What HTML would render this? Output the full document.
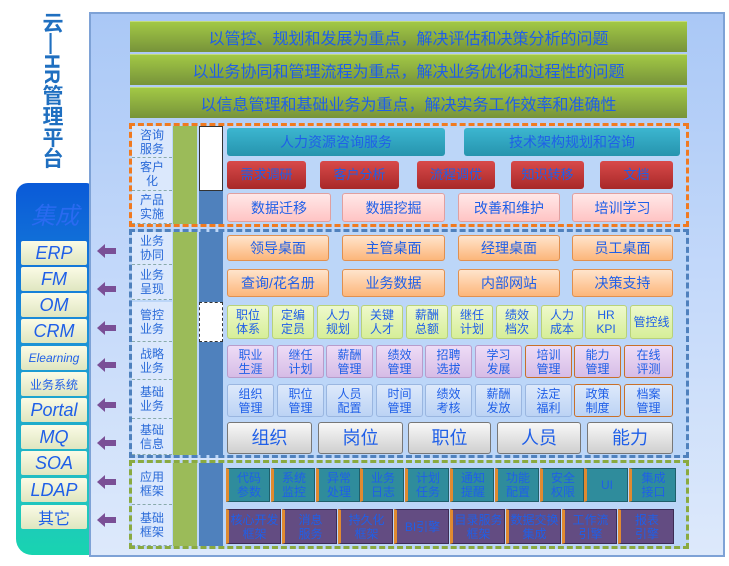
<!DOCTYPE html>
<html><head><meta charset="utf-8"><style>
*{margin:0;padding:0;box-sizing:border-box}
body{width:729px;height:566px;background:#fff;position:relative;overflow:hidden;font-family:"Liberation Sans","Noto Sans CJK SC",sans-serif}
div{position:absolute}
.b{display:flex;align-items:center;justify-content:center;text-align:center;color:#1f5fe8;font-size:12px;line-height:14px;border-radius:3px}
.lb{left:132px;width:40px;background:#dbe8fc;color:#2a6ad8;font-size:12px;line-height:14px;display:flex;align-items:center;justify-content:center;text-align:center;border-bottom:1px dashed #8aa}
.gc{left:173px;width:24px;background:#9bbb59}
.tc{left:199px;width:24px;background:#4f81bd}
.ban{left:130px;width:557px;height:31px;background:linear-gradient(#a2c845,#77933a);color:#1f5fe8;font-size:16px;display:flex;align-items:center;justify-content:center;border-top:1px solid #c3dc7c}
.g{background:linear-gradient(#eef9cc,#d6ee98);border:1px solid #b8d27a}
.p{background:linear-gradient(#eedcf6,#d6bce6);border:1px solid #b89ccb}
.l{background:linear-gradient(#dde9fb,#bcd3f4);border:1px solid #9ab6e0}
.o{border-color:#c8702a!important}
.t{background:#2f8c9c;border:1px solid #1f5f6a;border-left:3px solid #e08a30;border-radius:0}
.u{background:#634c82;border:1px solid #3c2c55;border-left:3px solid #e08a30;border-radius:0}
.it{left:21px;width:66px;height:24px;background:linear-gradient(#fbfbe6,#dfe6c0);color:#1f5fe8;font-style:italic;font-size:18px;display:flex;align-items:center;justify-content:center;border-radius:2px}
.ar{left:97px;width:0;height:0;border-top:7px solid transparent;border-bottom:7px solid transparent;border-right:8px solid #7a4f96}
.as{left:105px;width:11px;height:6px;background:#7a4f96}
</style></head><body>
<!-- title -->
<div style="left:37px;top:12px;width:28px;height:165px;color:#1f6fc0;font-weight:bold;font-size:21px;line-height:28px;writing-mode:vertical-rl;white-space:nowrap">云—HR管理平台</div>
<!-- integration panel -->
<div style="left:16px;top:183px;width:78px;height:372px;background:linear-gradient(#0a5ad8,#1b8fd8 40%,#22c4c0 85%,#18d4b0);border-radius:12px 8px 4px 16px"></div>
<div style="left:16px;top:196px;width:78px;text-align:center;color:#2a6af0;font-size:24px;font-style:italic">集成</div>
<div class="it" style="top:241px">ERP</div>
<div class="it" style="top:267px">FM</div>
<div class="it" style="top:293px">OM</div>
<div class="it" style="top:319px">CRM</div>
<div class="it" style="top:346px;font-size:12px">Elearning</div>
<div class="it" style="top:372px;font-size:12px;font-style:normal">业务系统</div>
<div class="it" style="top:398px">Portal</div>
<div class="it" style="top:425px">MQ</div>
<div class="it" style="top:451px">SOA</div>
<div class="it" style="top:478px">LDAP</div>
<div class="it" style="top:505px;font-style:normal;font-size:16px">其它</div>
<!-- main panel -->
<div style="left:89px;top:12px;width:636px;height:545px;background:linear-gradient(#aac8f6,#c4d9fa 50%,#dde9fb);border:2px solid #7ea2d6"></div>
<!-- arrows -->
<div class="ar" style="top:244px"></div><div class="as" style="top:248px"></div>
<div class="ar" style="top:282px"></div><div class="as" style="top:286px"></div>
<div class="ar" style="top:321px"></div><div class="as" style="top:325px"></div>
<div class="ar" style="top:358px"></div><div class="as" style="top:362px"></div>
<div class="ar" style="top:398px"></div><div class="as" style="top:402px"></div>
<div class="ar" style="top:436px"></div><div class="as" style="top:440px"></div>
<div class="ar" style="top:475px"></div><div class="as" style="top:479px"></div>
<div class="ar" style="top:513px"></div><div class="as" style="top:517px"></div>
<div class="ban" style="top:21px">以管控、规划和发展为重点，解决评估和决策分析的问题</div>
<div class="ban" style="top:54px">以业务协同和管理流程为重点，解决业务优化和过程性的问题</div>
<div class="ban" style="top:87px">以信息管理和基础业务为重点，解决实务工作效率和准确性</div>
<!-- section boxes -->
<div style="left:129px;top:123px;width:560px;height:104px;border:3px dashed #f07a20;background:#bcd6f8"></div>
<div style="left:129px;top:229px;width:560px;height:229px;border:3px dashed #4f81bd;background:#bcd6f8"></div>
<div style="left:129px;top:460px;width:560px;height:89px;border:3px dashed #8aaa40;background:#bcd6f8"></div>
<!-- columns -->
<div class="gc" style="top:126px;height:98px"></div>
<div class="gc" style="top:232px;height:223px"></div>
<div class="gc" style="top:463px;height:83px"></div>
<div style="left:199px;top:126px;width:24px;height:65px;background:#fff;border:1px solid #333"></div>
<div class="tc" style="top:191px;height:33px"></div>
<div class="tc" style="top:232px;height:70px"></div>
<div style="left:199px;top:302px;width:24px;height:40px;background:#fff;border:1px dashed #333"></div>
<div class="tc" style="top:342px;height:113px"></div>
<div class="tc" style="top:463px;height:83px"></div>
<!-- labels -->
<div class="lb" style="top:126px;height:32px">咨询<br>服务</div>
<div class="lb" style="top:158px;height:33px">客户<br>化</div>
<div class="lb" style="top:191px;height:33px">产品<br>实施</div>
<div class="lb" style="top:232px;height:33px">业务<br>协同</div>
<div class="lb" style="top:265px;height:35px">业务<br>呈现</div>
<div class="lb" style="top:302px;height:40px">管控<br>业务</div>
<div class="lb" style="top:342px;height:38px">战略<br>业务</div>
<div class="lb" style="top:380px;height:39px">基础<br>业务</div>
<div class="lb" style="top:419px;height:36px">基础<br>信息</div>
<div class="lb" style="top:463px;height:42px">应用<br>框架</div>
<div class="lb" style="top:505px;height:41px">基础<br>框架</div>
<!-- 咨询 -->
<div class="b" style="left:227px;top:128px;width:218px;height:28px;background:linear-gradient(#3cb6d0,#2694ae);font-size:14px">人力资源咨询服务</div>
<div class="b" style="left:464px;top:128px;width:216px;height:28px;background:linear-gradient(#3cb6d0,#2694ae);font-size:14px">技术架构规划和咨询</div>
<!-- 客户化 -->
<div class="b" style="left:227px;top:161px;width:79px;height:28px;background:linear-gradient(#d84a4a,#a82828);font-size:13px">需求调研</div>
<div class="b" style="left:320px;top:161px;width:79px;height:28px;background:linear-gradient(#d84a4a,#a82828);font-size:13px">客户分析</div>
<div class="b" style="left:417px;top:161px;width:78px;height:28px;background:linear-gradient(#d84a4a,#a82828);font-size:13px">流程调优</div>
<div class="b" style="left:511px;top:161px;width:73px;height:28px;background:linear-gradient(#d84a4a,#a82828);font-size:13px">知识转移</div>
<div class="b" style="left:600px;top:161px;width:73px;height:28px;background:linear-gradient(#d84a4a,#a82828);font-size:13px">文档</div>
<!-- 产品实施 -->
<div class="b" style="left:227px;top:193px;width:104px;height:29px;background:linear-gradient(#ffe8e8,#ffc4c4);border:1px solid #e0a0a0;font-size:14px">数据迁移</div>
<div class="b" style="left:342px;top:193px;width:103px;height:29px;background:linear-gradient(#ffe8e8,#ffc4c4);border:1px solid #e0a0a0;font-size:14px">数据挖掘</div>
<div class="b" style="left:458px;top:193px;width:102px;height:29px;background:linear-gradient(#ffe8e8,#ffc4c4);border:1px solid #e0a0a0;font-size:14px">改善和维护</div>
<div class="b" style="left:572px;top:193px;width:101px;height:29px;background:linear-gradient(#ffe8e8,#ffc4c4);border:1px solid #e0a0a0;font-size:14px">培训学习</div>
<!-- 业务协同/呈现 -->
<div class="b" style="left:227px;top:235px;width:102px;height:26px;background:linear-gradient(#ffe4cc,#fcb67a);border:1px solid #e09050;font-size:14px">领导桌面</div>
<div class="b" style="left:342px;top:235px;width:103px;height:26px;background:linear-gradient(#ffe4cc,#fcb67a);border:1px solid #e09050;font-size:14px">主管桌面</div>
<div class="b" style="left:458px;top:235px;width:102px;height:26px;background:linear-gradient(#ffe4cc,#fcb67a);border:1px solid #e09050;font-size:14px">经理桌面</div>
<div class="b" style="left:572px;top:235px;width:101px;height:26px;background:linear-gradient(#ffe4cc,#fcb67a);border:1px solid #e09050;font-size:14px">员工桌面</div>
<div class="b" style="left:227px;top:269px;width:102px;height:28px;background:linear-gradient(#ffe4cc,#fcb67a);border:1px solid #e09050;font-size:14px">查询/花名册</div>
<div class="b" style="left:342px;top:269px;width:103px;height:28px;background:linear-gradient(#ffe4cc,#fcb67a);border:1px solid #e09050;font-size:14px">业务数据</div>
<div class="b" style="left:458px;top:269px;width:102px;height:28px;background:linear-gradient(#ffe4cc,#fcb67a);border:1px solid #e09050;font-size:14px">内部网站</div>
<div class="b" style="left:572px;top:269px;width:101px;height:28px;background:linear-gradient(#ffe4cc,#fcb67a);border:1px solid #e09050;font-size:14px">决策支持</div>
<!-- 管控 -->
<div class="b g" style="left:227px;top:305px;width:42px;height:34px">职位<br>体系</div>
<div class="b g" style="left:272px;top:305px;width:42px;height:34px">定编<br>定员</div>
<div class="b g" style="left:317px;top:305px;width:42px;height:34px">人力<br>规划</div>
<div class="b g" style="left:361px;top:305px;width:42px;height:34px">关键<br>人才</div>
<div class="b g" style="left:406px;top:305px;width:42px;height:34px">薪酬<br>总额</div>
<div class="b g" style="left:451px;top:305px;width:42px;height:34px">继任<br>计划</div>
<div class="b g" style="left:496px;top:305px;width:42px;height:34px">绩效<br>档次</div>
<div class="b g" style="left:541px;top:305px;width:42px;height:34px">人力<br>成本</div>
<div class="b g" style="left:585px;top:305px;width:42px;height:34px">HR<br>KPI</div>
<div class="b g" style="left:630px;top:305px;width:43px;height:34px">管控线</div>
<!-- 战略 -->
<div class="b p" style="left:227px;top:345px;width:47px;height:33px">职业<br>生涯</div>
<div class="b p" style="left:277px;top:345px;width:47px;height:33px">继任<br>计划</div>
<div class="b p" style="left:326px;top:345px;width:47px;height:33px">薪酬<br>管理</div>
<div class="b p" style="left:376px;top:345px;width:47px;height:33px">绩效<br>管理</div>
<div class="b p" style="left:425px;top:345px;width:47px;height:33px">招聘<br>选拔</div>
<div class="b p" style="left:475px;top:345px;width:47px;height:33px">学习<br>发展</div>
<div class="b p o" style="left:525px;top:345px;width:47px;height:33px">培训<br>管理</div>
<div class="b p o" style="left:574px;top:345px;width:47px;height:33px">能力<br>管理</div>
<div class="b p o" style="left:624px;top:345px;width:49px;height:33px">在线<br>评测</div>
<!-- 基础业务 -->
<div class="b l" style="left:227px;top:384px;width:47px;height:33px">组织<br>管理</div>
<div class="b l" style="left:277px;top:384px;width:47px;height:33px">职位<br>管理</div>
<div class="b l" style="left:326px;top:384px;width:47px;height:33px">人员<br>配置</div>
<div class="b l" style="left:376px;top:384px;width:47px;height:33px">时间<br>管理</div>
<div class="b l" style="left:425px;top:384px;width:47px;height:33px">绩效<br>考核</div>
<div class="b l" style="left:475px;top:384px;width:47px;height:33px">薪酬<br>发放</div>
<div class="b l" style="left:525px;top:384px;width:47px;height:33px">法定<br>福利</div>
<div class="b l o" style="left:574px;top:384px;width:47px;height:33px">政策<br>制度</div>
<div class="b l o" style="left:624px;top:384px;width:49px;height:33px">档案<br>管理</div>
<!-- 基础信息 -->
<div class="b" style="left:227px;top:422px;width:85px;height:32px;background:linear-gradient(#f8f8f8,#cfcfcf);border:1px solid #777;font-size:18px">组织</div>
<div class="b" style="left:318px;top:422px;width:85px;height:32px;background:linear-gradient(#f8f8f8,#cfcfcf);border:1px solid #777;font-size:18px">岗位</div>
<div class="b" style="left:408px;top:422px;width:83px;height:32px;background:linear-gradient(#f8f8f8,#cfcfcf);border:1px solid #777;font-size:18px">职位</div>
<div class="b" style="left:497px;top:422px;width:84px;height:32px;background:linear-gradient(#f8f8f8,#cfcfcf);border:1px solid #777;font-size:18px">人员</div>
<div class="b" style="left:587px;top:422px;width:86px;height:32px;background:linear-gradient(#f8f8f8,#cfcfcf);border:1px solid #777;font-size:18px">能力</div>
<!-- 应用框架 -->
<div class="b t" style="left:226px;top:468px;width:44px;height:34px">代码<br>参数</div>
<div class="b t" style="left:271px;top:468px;width:44px;height:34px">系统<br>监控</div>
<div class="b t" style="left:316px;top:468px;width:44px;height:34px">异常<br>处理</div>
<div class="b t" style="left:360px;top:468px;width:44px;height:34px">业务<br>日志</div>
<div class="b t" style="left:405px;top:468px;width:44px;height:34px">计划<br>任务</div>
<div class="b t" style="left:450px;top:468px;width:44px;height:34px">通知<br>提醒</div>
<div class="b t" style="left:495px;top:468px;width:44px;height:34px">功能<br>配置</div>
<div class="b t" style="left:540px;top:468px;width:44px;height:34px">安全<br>权限</div>
<div class="b t" style="left:584px;top:468px;width:44px;height:34px">UI</div>
<div class="b t" style="left:629px;top:468px;width:47px;height:34px">集成<br>接口</div>
<!-- 基础框架 -->
<div class="b u" style="left:226px;top:509px;width:55px;height:35px">核心开发<br>框架</div>
<div class="b u" style="left:282px;top:509px;width:55px;height:35px">消息<br>服务</div>
<div class="b u" style="left:338px;top:509px;width:55px;height:35px">持久化<br>框架</div>
<div class="b u" style="left:394px;top:509px;width:55px;height:35px">BI引擎</div>
<div class="b u" style="left:450px;top:509px;width:55px;height:35px">目录服务<br>框架</div>
<div class="b u" style="left:506px;top:509px;width:55px;height:35px">数据交换<br>集成</div>
<div class="b u" style="left:562px;top:509px;width:55px;height:35px">工作流<br>引擎</div>
<div class="b u" style="left:618px;top:509px;width:56px;height:35px">报表<br>引擎</div>
</body></html>
